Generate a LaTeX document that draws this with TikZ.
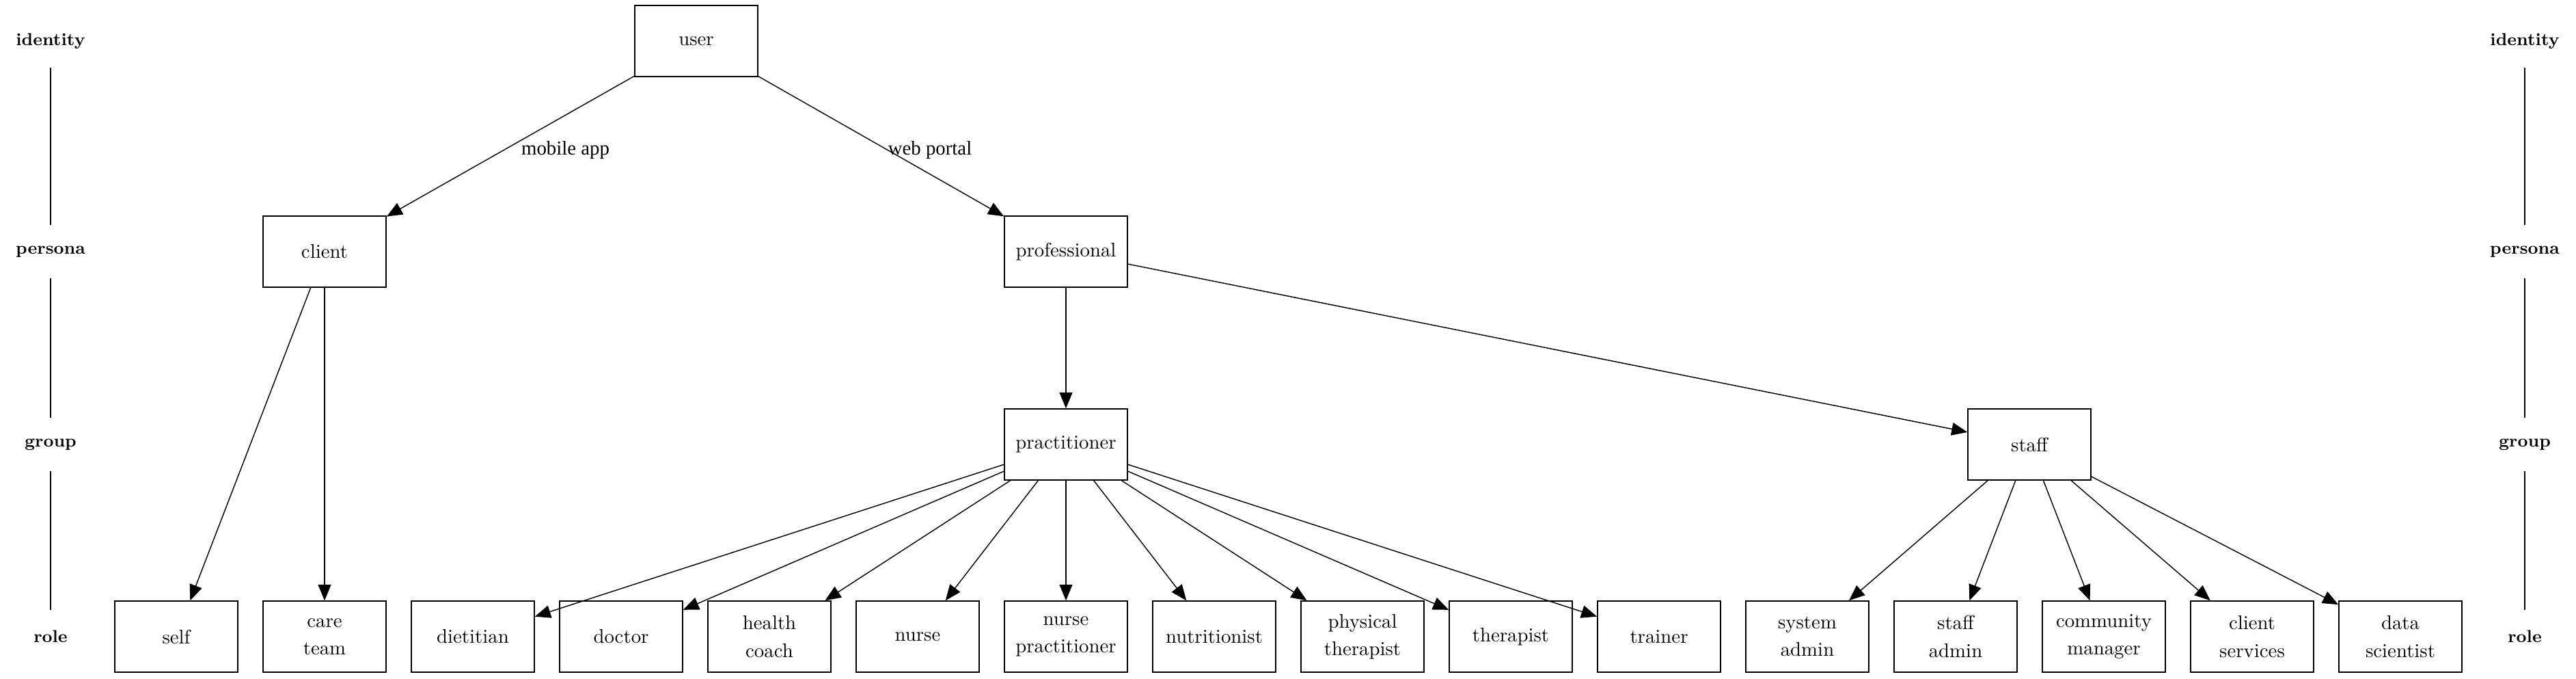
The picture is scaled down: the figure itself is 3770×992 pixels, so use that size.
\documentclass[tikz,border=0pt]{standalone}
\usepackage{fontspec}
\newfontfamily\edgefont{Liberation Serif}
\usetikzlibrary{arrows.meta}

\begin{document}
\begin{tikzpicture}[
    x=0.347pt, y=-0.347pt,
    box/.style={rectangle, draw, line width=0.5pt, minimum width=62.5pt, minimum height=36.1pt, inner sep=2pt, align=center, font=\fontsize{10}{14}\selectfont},
    tier/.style={rectangle, minimum height=26.4pt, inner sep=0pt, font=\fontsize{8.8}{10}\selectfont\bfseries},
    arrow/.style={-{Triangle[length=8pt, width=6.5pt]}, line width=0.5pt},
    rail/.style={line width=0.5pt},
    via/.style={right, yshift=-2pt, font=\edgefont\fontsize{10}{12}\selectfont}
]
\useasboundingbox (0,0) rectangle (3770,992);

\node[tier] (identityL) at (74,60) {identity};
\node[tier] (personaL) at (74,368) {persona};
\node[tier] (groupL) at (74,650) {group};
\node[tier] (roleL) at (74,931) {role};
\node[tier] (identityR) at (3695,60) {identity};
\node[tier] (personaR) at (3695,368) {persona};
\node[tier] (groupR) at (3695,650) {group};
\node[tier] (roleR) at (3695,931) {role};

\draw[rail] (identityL) -- (personaL);
\draw[rail] (personaL) -- (groupL);
\draw[rail] (groupL) -- (roleL);
\draw[rail] (identityR) -- (personaR);
\draw[rail] (personaR) -- (groupR);
\draw[rail] (groupR) -- (roleR);

\node[box] (user) at (1019,60) {user};
\node[box] (client) at (475,368) {client};
\node[box] (professional) at (1560,368) {professional};
\node[box] (practitioner) at (1560,650) {practitioner};
\node[box] (staff) at (2970,650) {staff};

\node[box] (self) at (258,931) {self};
\node[box] (careteam) at (475,931) {care\\team};
\node[box] (dietitian) at (692,931) {dietitian};
\node[box] (doctor) at (909,931) {doctor};
\node[box] (healthcoach) at (1126,931) {health\\coach};
\node[box] (nurse) at (1343,931) {nurse};
\node[box] (nursepract) at (1560,931) {nurse\\practitioner};
\node[box] (nutritionist) at (1777,931) {nutritionist};
\node[box] (phystherapist) at (1994,931) {physical\\therapist};
\node[box] (therapist) at (2211,931) {therapist};
\node[box] (trainer) at (2428,931) {trainer};
\node[box] (sysadmin) at (2645,931) {system\\admin};
\node[box] (staffadmin) at (2862,931) {staff\\admin};
\node[box] (commmanager) at (3079,931) {community\\manager};
\node[box] (clientserv) at (3296,931) {client\\services};
\node[box] (datasci) at (3513,931) {data\\scientist};

\draw[arrow] (user) -- node[via, xshift=2pt] {mobile app} (client);
\draw[arrow] (user) -- node[via] {web portal} (professional);

\draw[arrow] (client) -- (self);
\draw[arrow] (client) -- (careteam);

\draw[arrow] (professional) -- (practitioner);
\draw[arrow] (professional) -- (staff);

\draw[arrow] (practitioner) -- (dietitian);
\draw[arrow] (practitioner) -- (doctor);
\draw[arrow] (practitioner) -- (healthcoach);
\draw[arrow] (practitioner) -- (nurse);
\draw[arrow] (practitioner) -- (nursepract);
\draw[arrow] (practitioner) -- (nutritionist);
\draw[arrow] (practitioner) -- (phystherapist);
\draw[arrow] (practitioner) -- (therapist);
\draw[arrow] (practitioner) -- (trainer);

\draw[arrow] (staff) -- (sysadmin);
\draw[arrow] (staff) -- (staffadmin);
\draw[arrow] (staff) -- (commmanager);
\draw[arrow] (staff) -- (clientserv);
\draw[arrow] (staff) -- (datasci);
\end{tikzpicture}
\end{document}
